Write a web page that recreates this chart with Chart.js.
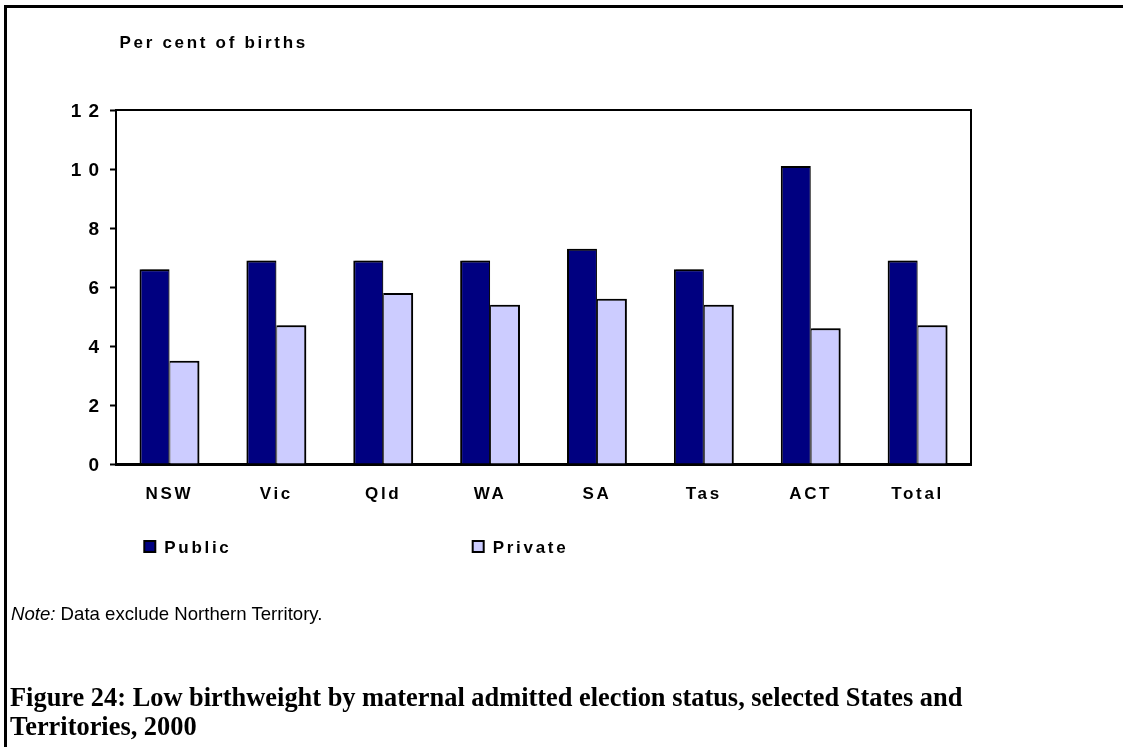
<!DOCTYPE html>
<html>
<head>
<meta charset="utf-8">
<title>Low birthweight by maternal admitted election status</title>
<script src="https://cdn.jsdelivr.net/npm/chart.js@4.4.1/dist/chart.umd.min.js"></script>
<style>
    html, body { margin: 0; padding: 0; background: #fff; }
    #page { position: relative; width: 1123px; height: 747px; overflow: hidden; color: #000; }
    #chartWrap { position: absolute; left: 0; top: 0; width: 1123px; height: 747px; }
    .rule-top { position: absolute; left: 4px; top: 5px; width: 1119px; height: 3px; background: #000; }
    .rule-left { position: absolute; left: 4px; top: 5px; width: 3px; height: 742px; background: #000; }
    .axis-title { position: absolute; left: 119.5px; top: 34px; font: bold 17px/17px "Liberation Sans", Arial, sans-serif; letter-spacing: 2.7px; white-space: nowrap; }
    .note { position: absolute; left: 11px; top: 604px; font: 18.6px/19px "Liberation Sans", Arial, sans-serif; white-space: nowrap; }
    .caption { position: absolute; left: 10px; top: 683px; font: bold 26.4px/29px "Liberation Serif", "Times New Roman", serif; white-space: nowrap; }
</style>
</head>
<body>
<div id="page">
    <div id="chartWrap"><canvas id="birthChart"></canvas></div>
    <div class="rule-top"></div>
    <div class="rule-left"></div>
    <div class="axis-title">Per cent of births</div>
    <div class="note"><i>Note:</i> Data exclude Northern Territory.</div>
    <div class="caption">Figure 24: Low birthweight by maternal admitted election status, selected States and<br>Territories, 2000</div>
</div>
<script>
const categories = ['NSW', 'Vic', 'Qld', 'WA', 'SA', 'Tas', 'ACT', 'Total'];
const publicValues = [6.6, 6.9, 6.9, 6.9, 7.3, 6.6, 10.1, 6.9];
const privateValues = [3.5, 4.7, 5.8, 5.4, 5.6, 5.4, 4.6, 4.7];
const yTicks = [0, 2, 4, 6, 8, 10, 12];

const FONT = '"Liberation Sans", Arial, sans-serif';
Chart.defaults.font.family = FONT;
Chart.defaults.color = '#000';

// canvas letter spacing (reset whenever the canvas is resized)
const spacing = {
    id: 'spacing',
    beforeUpdate: (chart) => { chart.ctx.letterSpacing = '2.7px'; },
    beforeDraw: (chart) => { chart.ctx.letterSpacing = '2.7px'; },
};

// thin grey drop shadow on the bars
const barShadow = {
    id: 'barShadow',
    beforeDatasetsDraw: (chart) => {
        const ctx = chart.ctx;
        ctx.save();
        ctx.shadowColor = 'rgba(0,0,0,0.4)';
        ctx.shadowOffsetX = 2;
        ctx.shadowOffsetY = 0;
        ctx.shadowBlur = 0;
    },
    afterDatasetsDraw: (chart) => { chart.ctx.restore(); },
};

// y tick labels are drawn after the bars (ticks.z = 1) with wider spacing
const yLabelSpacing = {
    id: 'yLabelSpacing',
    afterDatasetsDraw: (chart) => { chart.ctx.letterSpacing = '7px'; },
};

// top and right sides of the plot frame
const plotFrame = {
    id: 'plotFrame',
    afterDatasetsDraw: (chart) => {
        const { ctx, chartArea: a } = chart;
        ctx.save();
        ctx.strokeStyle = '#000';
        ctx.lineWidth = 2;
        ctx.beginPath();
        ctx.moveTo(a.left, a.top);
        ctx.lineTo(a.right, a.top);
        ctx.lineTo(a.right, a.bottom);
        ctx.stroke();
        ctx.restore();
    },
};

// legend laid out like the original: two entries far apart
const wideLegend = {
    id: 'wideLegend',
    afterDraw: (chart, args, opts) => {
        const ctx = chart.ctx;
        ctx.save();
        ctx.letterSpacing = '2.7px';
        ctx.font = 'bold 17px ' + FONT;
        ctx.textBaseline = 'alphabetic';
        chart.data.datasets.forEach((ds, i) => {
            const x = opts.x + i * opts.gap;
            ctx.fillStyle = ds.backgroundColor;
            ctx.fillRect(x, opts.y, 11, 11);
            ctx.lineWidth = 2;
            ctx.strokeStyle = '#000';
            ctx.strokeRect(x, opts.y, 11, 11);
            ctx.fillStyle = '#000';
            ctx.fillText(ds.label, x + 20, opts.y + 12.3);
        });
        ctx.restore();
    },
};

new Chart(document.getElementById('birthChart'), {
    type: 'bar',
    data: {
        labels: categories,
        datasets: [
            {
                label: 'Public',
                data: publicValues,
                backgroundColor: '#000080',
                borderColor: '#000',
                borderWidth: { top: 2, left: 2, right: 1, bottom: 0 },
                barPercentage: 1,
                categoryPercentage: 0.56,
            },
            {
                label: 'Private',
                data: privateValues,
                backgroundColor: '#CCCCFF',
                borderColor: '#000',
                borderWidth: { top: 2, left: 1, right: 2, bottom: 0 },
                barPercentage: 1,
                categoryPercentage: 0.56,
            },
        ],
    },
    options: {
        responsive: true,
        maintainAspectRatio: false,
        animation: false,
        layout: { padding: { top: 110, left: 0, right: 152, bottom: 223 } },
        plugins: {
            legend: { display: false },
            tooltip: { enabled: false },
            wideLegend: { x: 144.3, y: 541, gap: 328.4 },
        },
        scales: {
            x: {
                afterFit: (s) => { s.height = 60; },
                grid: { display: false },
                border: { color: '#000', width: 3 },
                ticks: { color: '#000', font: { size: 17, weight: 'bold' }, padding: 12 },
            },
            y: {
                min: 0,
                max: 12,
                afterFit: (s) => { s.width = 116; },
                afterBuildTicks: (s) => { s.ticks = yTicks.map((v) => ({ value: v })); },
                grid: { drawOnChartArea: false, drawTicks: true, tickLength: 6, tickWidth: 2, color: '#000' },
                border: { color: '#000', width: 2 },
                ticks: { color: '#000', font: { size: 19, weight: 'bold' }, padding: 4, labelOffset: 2, z: 1 },
            },
        },
    },
    plugins: [spacing, barShadow, yLabelSpacing, plotFrame, wideLegend],
});
</script>
</body>
</html>
